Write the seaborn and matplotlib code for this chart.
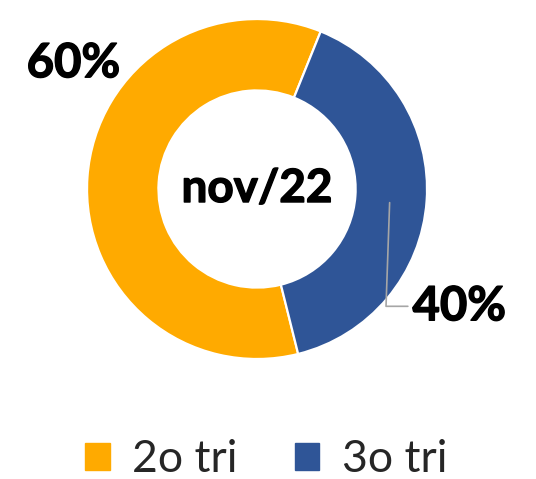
import matplotlib
matplotlib.use("Agg")
import matplotlib.pyplot as plt
import matplotlib.patches as mpatches
import matplotlib.patheffects as pe
import seaborn as sns

sns.set_theme(style="white")
plt.rcParams["font.family"] = ["Lato", "DejaVu Sans"]

# data
categories = ["2o tri", "3o tri"]
shares = [60, 40]
center_label = "nov/22"

COLORS = {"2o tri": "#FFAA00", "3o tri": "#2F5597"}

fig = plt.figure(figsize=(5.36, 4.79), dpi=100)
ax = fig.add_axes([0, 0, 1, 1])

colors = [COLORS[c] for c in categories]
wedges, _ = ax.pie(
    shares,
    colors=colors,
    startangle=-76,
    counterclock=False,
    radius=1.0,
    wedgeprops=dict(width=0.42, edgecolor="white", linewidth=1.6),
)

# pie centre sits at (257, 189) px with radius 170 px
ax.set_xlim(-1.512, 1.641)
ax.set_ylim(-1.706, 1.112)
ax.set_aspect("auto")
ax.axis("off")

# a thin stroke makes Lato Bold look closer to the heavier original
heavy = [pe.withStroke(linewidth=1.0, foreground="black")]

ax.text(0, 0.0, center_label, ha="center", va="center",
        fontsize=33, fontweight="bold", color="black", path_effects=heavy)

# data labels
ax.text(-1.08, 0.74, f"{shares[0]}%", ha="center", va="center",
        fontsize=34, fontweight="bold", color="black", path_effects=heavy)
ax.annotate(
    f"{shares[1]}%",
    xy=(0.78, -0.08), xytext=(1.19, -0.69),
    ha="center", va="center", fontsize=34, fontweight="bold", color="black",
    path_effects=heavy,
    arrowprops=dict(arrowstyle="-", color="#A6A6A6", lw=1.2,
                    shrinkA=0, shrinkB=0, relpos=(-0.05, 0.5),
                    connectionstyle="angle,angleA=0,angleB=88,rad=0"),
)

handles = [mpatches.Patch(color=COLORS[c], label=c) for c in categories]
fig.legend(
    handles=handles, loc="center", ncol=2,
    bbox_to_anchor=(266 / 536, 1 - 460 / 479),
    frameon=False, fontsize=32,
    handlelength=0.55, handleheight=0.55, handletextpad=0.5,
    columnspacing=1.3,
)

plt.savefig("out.png", dpi=100)
plt.close()
